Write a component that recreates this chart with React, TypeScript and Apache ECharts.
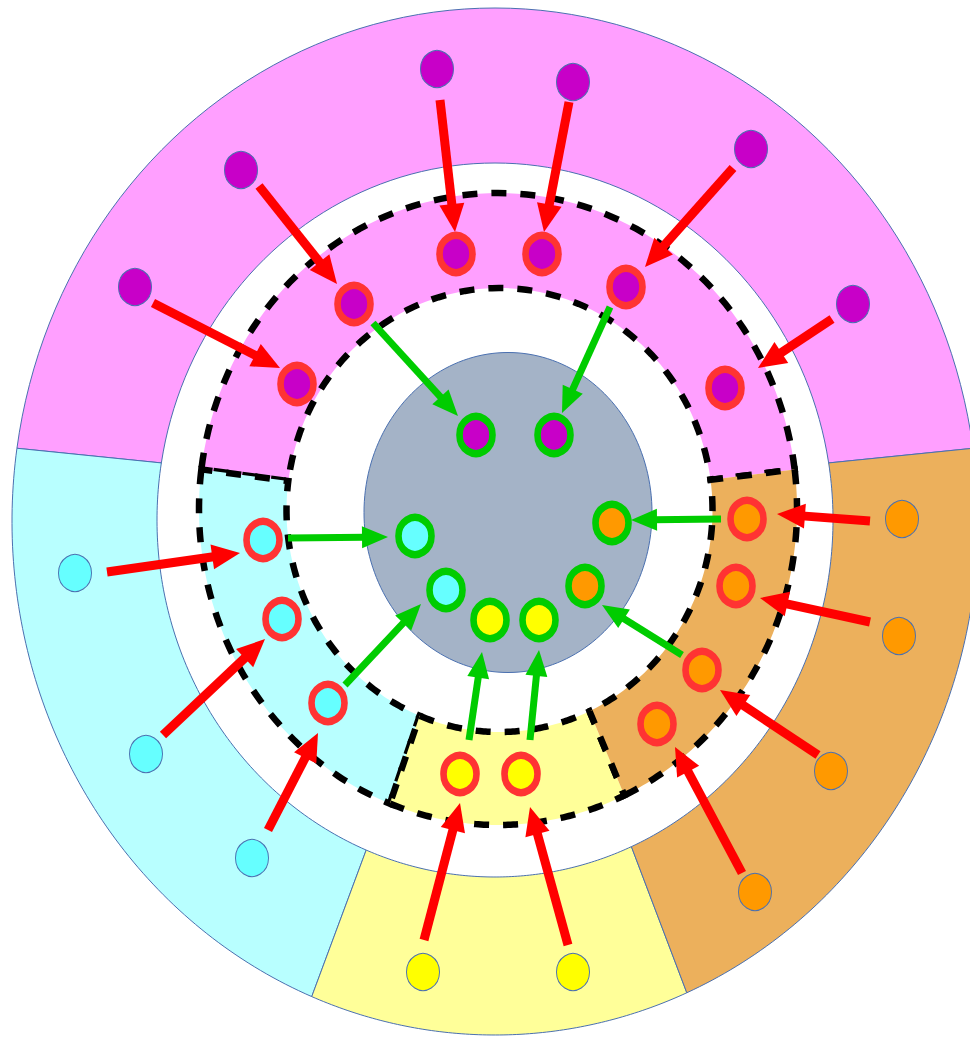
import React, { useEffect, useRef } from 'react';
import * as echarts from 'echarts';

const W = 970;
const H = 1037;

// group order: pink, cyan, yellow, orange
const groups = ['pink', 'cyan', 'yellow', 'orange'];

// sector boundaries in degrees (counter-clockwise from +x): [startOuter, endOuter, startInner, endInner]
const outerSectorAngles = [
  [8.2, 171.8, 9.2, 170.8],
  [171.8, 247.7, 170.8, 247.6],
  [247.7, 293.4, 247.6, 293.8],
  [293.4, 368.2, 293.8, 369.2],
];
const middleSectorAngles = [
  [7.2, 172.8, 7.8, 172.5],
  [172.8, 248.8, 172.5, 248],
  [248.8, 295, 248, 295],
  [295, 367.2, 295, 367.8],
];

// dots: [x, y, group]
const outerDots = [
  [241, 170, 0], [135, 287, 0], [437, 69, 0], [573, 82, 0], [751, 149, 0], [853, 304, 0],
  [75, 573, 1], [146, 754, 1], [252, 858, 1],
  [423, 972, 2], [573, 972, 2],
  [902, 519, 3], [899, 636, 3], [831, 771, 3], [755, 892, 3],
];
const middleDots = [
  [354, 304, 0], [297, 384, 0], [456, 254, 0], [542, 254, 0], [626, 287, 0], [725, 388, 0],
  [263, 540, 1], [282, 619, 1], [328, 703, 1],
  [460, 774, 2], [521, 774, 2],
  [747, 519, 3], [736, 586, 3], [702, 670, 3], [657, 724, 3],
];
const innerDots = [
  [476, 435, 0], [554, 435, 0],
  [415, 536, 1], [446, 590, 1],
  [490, 620, 2], [539, 620, 2],
  [612, 523, 3], [585, 586, 3],
];

// arrows: [x1, y1, x2 (tip), y2 (tip)]
const redArrows = [
  [259, 186, 337, 284], [153, 303, 280, 368], [440, 100, 455, 232], [569, 102, 544, 232],
  [733, 168, 645, 267], [832, 319, 758, 368],
  [107, 572, 240, 553], [163, 735, 265, 639], [268, 830, 318, 733],
  [424, 940, 460, 803], [568, 945, 530, 807],
  [870, 521, 777, 514], [870, 622, 760, 598], [818, 755, 720, 690], [742, 873, 675, 747],
];
const greenArrows = [
  [373, 323, 458, 416], [610, 307, 562, 413], [721, 519, 631, 520], [682, 655, 602, 605],
  [288, 538, 388, 537], [345, 685, 421, 604], [469, 740, 482, 652], [530, 740, 539, 650],
];

// ellipse geometry: [cx, cy, rx, ry]
const OUTER_OUT = [495, 521.5, 483, 513.5];
const OUTER_IN = [495, 520, 338, 357];
const MID_OUT = [498, 509, 299, 316];
const MID_IN = [499.5, 510, 213, 222];
const CORE = [508, 512.5, 144, 160];

const sectorFill = ['#ff9fff', '#b8ffff', '#ffff99', '#ecb05c'];
const dotFill = ['#c800c8', '#66ffff', '#ffff00', '#ff9900'];

const ellipsePoint = (e: number[], deg: number) => {
  const t = (deg * Math.PI) / 180;
  return [e[0] + e[2] * Math.cos(t), e[1] - e[3] * Math.sin(t)];
};

const ringRender = (outerE: number[], innerE: number[], style: any) => (params: any, api: any) => {
  const o0 = api.value(0);
  const o1 = api.value(1);
  const i0 = api.value(2);
  const i1 = api.value(3);
  const g = api.value(4);
  const n = 90;
  const pts: number[][] = [];
  for (let k = 0; k <= n; k++) pts.push(api.coord(ellipsePoint(outerE, o0 + ((o1 - o0) * k) / n)));
  for (let k = n; k >= 0; k--) pts.push(api.coord(ellipsePoint(innerE, i0 + ((i1 - i0) * k) / n)));
  return {
    type: 'polygon',
    shape: { points: pts },
    style: { ...style, fill: sectorFill[g] },
  };
};

const coreRender = (params: any, api: any) => {
  const e = [api.value(0), api.value(1), api.value(2), api.value(3)];
  const pts: number[][] = [];
  for (let k = 0; k < 180; k++) pts.push(api.coord(ellipsePoint(e, k * 2)));
  return {
    type: 'polygon',
    shape: { points: pts },
    style: { fill: '#a4b3c7', stroke: '#4a70b0', lineWidth: 1 },
  };
};

const arrowRender = (color: string, lw: number, headL: number, headW: number) => (params: any, api: any) => {
  const p1 = api.coord([api.value(0), api.value(1)]);
  const p2 = api.coord([api.value(2), api.value(3)]);
  const dx = p2[0] - p1[0];
  const dy = p2[1] - p1[1];
  const len = Math.hypot(dx, dy) || 1;
  const ux = dx / len;
  const uy = dy / len;
  const bx = p2[0] - ux * headL;
  const by = p2[1] - uy * headL;
  return {
    type: 'group',
    children: [
      {
        type: 'line',
        shape: { x1: p1[0], y1: p1[1], x2: bx + ux * 3, y2: by + uy * 3 },
        style: { stroke: color, lineWidth: lw },
      },
      {
        type: 'polygon',
        shape: {
          points: [
            [p2[0], p2[1]],
            [bx - (uy * headW) / 2, by + (ux * headW) / 2],
            [bx + (uy * headW) / 2, by - (ux * headW) / 2],
          ],
        },
        style: { fill: color },
      },
    ],
  };
};

const dotData = (arr: number[][]) =>
  arr.map((d) => ({ name: groups[d[2]], value: [d[0], d[1]], itemStyle: { color: dotFill[d[2]] } }));

export default function App() {
  const ref = useRef<HTMLDivElement>(null);
  useEffect(() => {
    if (!ref.current) return;
    const chart = echarts.init(ref.current, null, { renderer: 'svg' });
    chart.setOption({
      animation: false,
      backgroundColor: '#ffffff',
      grid: { left: 0, right: 0, top: 0, bottom: 0 },
      xAxis: { type: 'value', min: 0, max: W, show: false },
      yAxis: { type: 'value', min: 0, max: H, inverse: true, show: false },
      series: [
        {
          type: 'custom',
          name: 'outerRing',
          z: 1,
          silent: true,
          renderItem: ringRender(OUTER_OUT, OUTER_IN, { stroke: '#4a70b0', lineWidth: 1 }),
          data: outerSectorAngles.map((a, i) => [a[0], a[1], a[2], a[3], i]),
        },
        {
          type: 'custom',
          name: 'middleRing',
          z: 2,
          silent: true,
          renderItem: ringRender(MID_OUT, MID_IN, { stroke: '#000000', lineWidth: 6.5, lineDash: [15, 14] }),
          data: middleSectorAngles.map((a, i) => [a[0], a[1], a[2], a[3], i]),
        },
        {
          type: 'custom',
          name: 'core',
          z: 2,
          silent: true,
          renderItem: coreRender,
          data: [CORE],
        },
        {
          type: 'scatter',
          name: 'outerDots',
          z: 3,
          silent: true,
          symbol: 'circle',
          symbolSize: [33, 37],
          itemStyle: { borderColor: '#4a70b0', borderWidth: 1, opacity: 1 },
          data: dotData(outerDots),
        },
        {
          type: 'scatter',
          name: 'middleDots',
          z: 3,
          silent: true,
          symbol: 'circle',
          symbolSize: [33, 37],
          itemStyle: { borderColor: '#ff3333', borderWidth: 7, opacity: 1 },
          data: dotData(middleDots),
        },
        {
          type: 'scatter',
          name: 'innerDots',
          z: 3,
          silent: true,
          symbol: 'circle',
          symbolSize: [33, 37],
          itemStyle: { borderColor: '#00cc00', borderWidth: 7, opacity: 1 },
          data: dotData(innerDots),
        },
        {
          type: 'custom',
          name: 'redArrows',
          z: 4,
          silent: true,
          renderItem: arrowRender('#ff0000', 9, 28, 25),
          data: redArrows,
        },
        {
          type: 'custom',
          name: 'greenArrows',
          z: 4,
          silent: true,
          renderItem: arrowRender('#00cc00', 7, 26, 22),
          data: greenArrows,
        },
      ],
    });
    return () => chart.dispose();
  }, []);
  return (
    <div
      ref={ref}
      style={{ position: 'absolute', left: 0, top: 0, width: W, height: H }}
    />
  );
}
